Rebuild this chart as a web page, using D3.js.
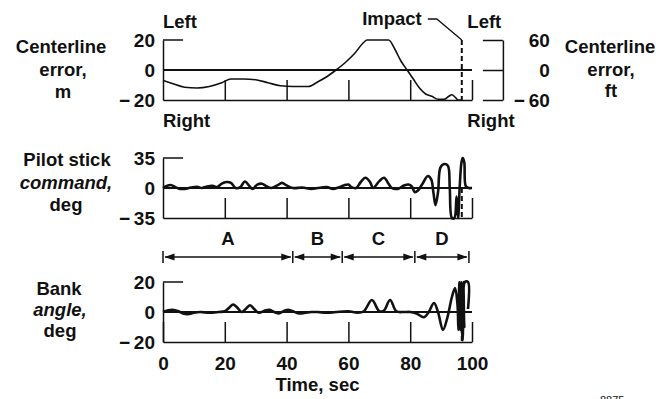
<!DOCTYPE html>
<html>
<head>
<meta charset="utf-8">
<script src="https://cdn.jsdelivr.net/npm/d3@7"></script>
<style>
body { margin: 0; background: #fff; }
svg text { font-family: "Liberation Sans", Arial, sans-serif; font-weight: bold; fill: #111; }
</style>
</head>
<body>
<script>
const width = 663;
const height = 399;

const INK = "#111";
const WORD_SIZE = 18.5;
const NUM_SIZE = 19;

// time axis
const timeTicks = [0, 20, 40, 60, 80, 100];
const impactTime = 96.7;

// centerline error, m
const errT = [0, 3, 7, 11, 15, 19, 22, 26, 30, 34, 38, 42, 47, 50, 53, 56, 59, 62, 65, 66, 73, 75, 77, 79, 81, 83, 85, 87, 89, 91, 92.5, 93.5, 94.5, 95.5, 96.7];
const errV = [-7, -9, -11.5, -12, -11, -8.5, -6, -6, -6.5, -8.5, -10.5, -11, -11, -8, -4.5, 0, 5, 11, 18.5, 20, 20, 14, 6, 0, -6, -12, -16, -17.5, -19.5, -19.5, -17.5, -16.5, -18, -20, -20];
const errTicks = [-20, 0, 20];
const errFtTicks = [-60, 0, 60];

// pilot stick command, deg
const stickT = [0, 1, 2.5, 4, 5.5, 7, 9, 11, 12.5, 14, 16, 17.5, 19, 20.5, 22, 23.5, 25, 26.5, 28, 29, 30.5, 32, 33.5, 35, 37, 38.5, 40, 42, 45, 48, 50, 53, 55, 57, 58.5, 60, 61, 62.5, 64, 65.5, 67, 68, 70, 71.5, 73, 74, 76, 78, 79.5, 80.5, 81.5, 82.5, 84, 85.7, 86.8, 87.5, 88.2, 89, 89.8, 91, 92.2, 92.8, 93.5, 94.3, 95, 95.5, 96, 96.6, 97, 97.5, 98, 99, 100];
const stickV = [0, 2, 3.5, 1, -1, -1, 0.5, 1.5, 0, 1.5, 2.5, 1, 5, 7, 6, 0, 1, 7.5, 2, -1, 4, 5, 2, 0, 3, 6, 3, 0, 0.5, -1, 0, 1, -1, 1, 3, 4, 1, 0, 7, 12, 7, 0, 8, 12, 5, 0, -1, 3, 4, 2, -5, -3, 5, 14, 10, -5, -20, -5, 24, 28, 26, 0, -35, -35, -10, -35, 0, 30, 35, 30, 2, 0, 0];
const stickTicks = [-35, 0, 35];

// bank angle, deg
const bankT = [0, 1.5, 3, 5, 6.5, 8, 10, 12, 15, 18, 20, 21.5, 22.7, 24, 25.5, 27, 28.2, 29.5, 31, 33, 34.5, 36, 37.5, 39, 40.5, 42, 44, 46, 48, 50, 53, 56, 60, 63, 65, 67.6, 70, 71.5, 73.5, 75.5, 78, 80, 82, 84.5, 86, 87.7, 89, 90.6, 92, 93.5, 94.5, 95.3, 95.6, 95.9, 96.2, 96.5, 96.8, 97.0, 97.2, 97.5, 97.7, 98.7, 98.7];
const bankV = [0, 1, 1.5, 0.5, -1, -1.5, -0.5, 0, -0.5, 0, 0.5, 3, 5, 3, 0, 2.5, 4.5, 2, -0.5, 1, 1.5, 0, -1, 0.5, 1.5, 0.5, -1, -0.5, 0, 0, -0.5, 0, 0.5, -0.5, 0.5, 8, 0.5, 1, 8, 0.5, 0, 0, -1, -3.5, 0, 6, 0, -12, -4, 10, 16, 5, -12, 20, -12, 20, -13, -19, 20, -10, 20, 20, 2];
const bankTicks = [-20, 0, 20];

// flight phases
const phaseNames = ["A", "B", "C", "D"];
const phaseEdges = [0, 42, 58, 81.5, 99];

const svg = d3.select("body")
	.append("svg")
	.attr("width", width)
	.attr("height", height);

const x = d3.scaleLinear().domain([0, 100]).range([163, 472]);
const yErr = d3.scaleLinear().domain([-20, 20]).range([100, 40]);
const yErrFt = d3.scaleLinear().domain([-60, 60]).range([100, 40]);
const yStick = d3.scaleLinear().domain([-35, 35]).range([218, 158]);
const yBank = d3.scaleLinear().domain([-20, 20]).range([342, 282]);

function fmt(d) {
	return d < 0 ? "\u2212\u2009" + Math.abs(d) : String(d);
}

function drawPanel(y, ticks, t, v, lineWidth, curve, showTime) {
	const bottom = y.range()[0];
	const top = y.range()[1];

	// time axis along the bottom, ticks pointing up
	const xAxis = svg.append("g")
		.attr("transform", "translate(0," + bottom + ")")
		.call(d3.axisBottom(x)
			.tickValues(showTime ? timeTicks : timeTicks.slice(1))
			.tickSize(-20)
			.tickSizeOuter(0)
			.tickPadding(15)
			.tickFormat(showTime ? fmt : ""));
	xAxis.selectAll("path, line").attr("stroke", INK).attr("stroke-width", 1.5);
	xAxis.attr("font-size", NUM_SIZE).attr("font-family", null);

	// value axis on the left
	const yAxis = svg.append("g")
		.attr("transform", "translate(" + x(0) + ",0)")
		.call(d3.axisLeft(y)
			.tickValues(ticks)
			.tickSize(0)
			.tickSizeOuter(0)
			.tickPadding(8)
			.tickFormat(fmt));
	yAxis.select(".domain").attr("stroke", INK).attr("stroke-width", 1.5);
	yAxis.attr("font-size", NUM_SIZE).attr("font-family", null);

	// bracket at the top of the axis
	svg.append("line")
		.attr("x1", x(0)).attr("x2", x(6.5))
		.attr("y1", top).attr("y2", top)
		.attr("stroke", INK).attr("stroke-width", 1.5);

	// zero reference line
	svg.append("line")
		.attr("x1", x(0)).attr("x2", x(100))
		.attr("y1", y(0)).attr("y2", y(0))
		.attr("stroke", INK).attr("stroke-width", 2);

	const line = d3.line()
		.x(function (d, i) { return x(t[i]); })
		.y(function (d) { return y(d); })
		.curve(curve);

	svg.append("path")
		.attr("d", line(v))
		.attr("fill", "none")
		.attr("stroke", INK)
		.attr("stroke-width", lineWidth)
		.attr("stroke-linejoin", "round");
}

drawPanel(yErr, errTicks, errT, errV, 1.6, d3.curveMonotoneX, false);
drawPanel(yStick, stickTicks, stickT, stickV, 2.6, d3.curveCatmullRom.alpha(0.5), false);
drawPanel(yBank, bankTicks, bankT, bankV, 2.6, d3.curveCatmullRom.alpha(0.5), true);

// right axis of the top panel, in feet
const xRight = x(110);
const ftAxis = svg.append("g")
	.attr("transform", "translate(" + xRight + ",0)")
	.call(d3.axisRight(yErrFt)
		.tickValues(errFtTicks)
		.tickSize(-20)
		.tickSizeOuter(0)
		.tickPadding(47)
		.tickFormat(fmt));
ftAxis.selectAll("path, line").attr("stroke", INK).attr("stroke-width", 1.5);
ftAxis.attr("font-size", NUM_SIZE).attr("font-family", null);
ftAxis.selectAll("text").attr("text-anchor", "end");

// impact marker
[[yErr, 20], [yStick, 0], [yBank, 0]].forEach(function (p) {
	const y = p[0];
	svg.append("line")
		.attr("x1", x(impactTime)).attr("x2", x(impactTime))
		.attr("y1", y(p[1])).attr("y2", y.range()[0])
		.attr("stroke", INK)
		.attr("stroke-width", 2)
		.attr("stroke-dasharray", "5,3");
});
svg.append("path")
	.attr("d", "M" + (x(impactTime) - 34) + "," + (yErr(20) - 21) +
		"H" + (x(impactTime) - 25) + "L" + x(impactTime) + "," + yErr(20))
	.attr("fill", "none")
	.attr("stroke", INK)
	.attr("stroke-width", 1.3);
svg.append("text")
	.attr("x", x(impactTime) - 40)
	.attr("y", 25)
	.attr("text-anchor", "end")
	.attr("font-size", WORD_SIZE)
	.text("Impact");

// Left / Right direction labels
const dirLabels = [
	{ text: "Left", x: x(0), y: 28 },
	{ text: "Right", x: x(0), y: 127 },
	{ text: "Left", x: x(98.5), y: 28 },
	{ text: "Right", x: x(98.5), y: 127 }
];
svg.selectAll(".dir")
	.data(dirLabels)
	.enter()
	.append("text")
	.attr("class", "dir")
	.attr("x", function (d) { return d.x; })
	.attr("y", function (d) { return d.y; })
	.attr("font-size", WORD_SIZE)
	.text(function (d) { return d.text; });

// axis titles
const titles = [
	{ text: "Centerline", x: 61, y: 53 },
	{ text: "error,", x: 63, y: 76 },
	{ text: "m", x: 63, y: 98 },
	{ text: "Pilot stick", x: 67, y: 166 },
	{ text: "command,", x: 66, y: 189, italic: true },
	{ text: "deg", x: 66, y: 211 },
	{ text: "Bank", x: 59, y: 295 },
	{ text: "angle,", x: 60, y: 316, italic: true },
	{ text: "deg", x: 60, y: 337 },
	{ text: "Centerline", x: 610, y: 53 },
	{ text: "error,", x: 611, y: 76 },
	{ text: "ft", x: 611, y: 97 }
];
svg.selectAll(".title")
	.data(titles)
	.enter()
	.append("text")
	.attr("class", "title")
	.attr("x", function (d) { return d.x; })
	.attr("y", function (d) { return d.y; })
	.attr("text-anchor", "middle")
	.attr("font-size", WORD_SIZE)
	.attr("font-style", function (d) { return d.italic ? "italic" : null; })
	.text(function (d) { return d.text; });

svg.append("text")
	.attr("x", x(50))
	.attr("y", 391)
	.attr("text-anchor", "middle")
	.attr("font-size", WORD_SIZE)
	.text("Time, sec");

// phase intervals with double arrows
const yPhase = 257;
const phases = phaseNames.map(function (name, i) {
	return { name: name, t0: phaseEdges[i], t1: phaseEdges[i + 1] };
});

svg.selectAll(".edge")
	.data(phaseEdges)
	.enter()
	.append("line")
	.attr("class", "edge")
	.attr("x1", function (d) { return x(d); })
	.attr("x2", function (d) { return x(d); })
	.attr("y1", yPhase - 6)
	.attr("y2", yPhase + 6)
	.attr("stroke", INK)
	.attr("stroke-width", 1.5);

const phaseG = svg.selectAll(".phase")
	.data(phases)
	.enter()
	.append("g")
	.attr("class", "phase");

phaseG.append("line")
	.attr("x1", function (d) { return x(d.t0) + 2; })
	.attr("x2", function (d) { return x(d.t1) - 2; })
	.attr("y1", yPhase)
	.attr("y2", yPhase)
	.attr("stroke", INK)
	.attr("stroke-width", 1.3);

phaseG.append("path")
	.attr("d", function (d) {
		const a = x(d.t0) + 1.5;
		const b = x(d.t1) - 1.5;
		return "M" + a + "," + yPhase + "l10,-3.5v7Z" +
			"M" + b + "," + yPhase + "l-10,-3.5v7Z";
	})
	.attr("fill", INK);

phaseG.append("text")
	.attr("x", function (d) { return x((d.t0 + d.t1) / 2); })
	.attr("y", 245)
	.attr("text-anchor", "middle")
	.attr("font-size", WORD_SIZE)
	.text(function (d) { return d.name; });

// figure number, cut by the page edge as in the source
svg.append("text")
	.attr("x", 600)
	.attr("y", 404)
	.attr("font-size", 11)
	.style("font-weight", "normal")
	.text("8875");
</script>
</body>
</html>
